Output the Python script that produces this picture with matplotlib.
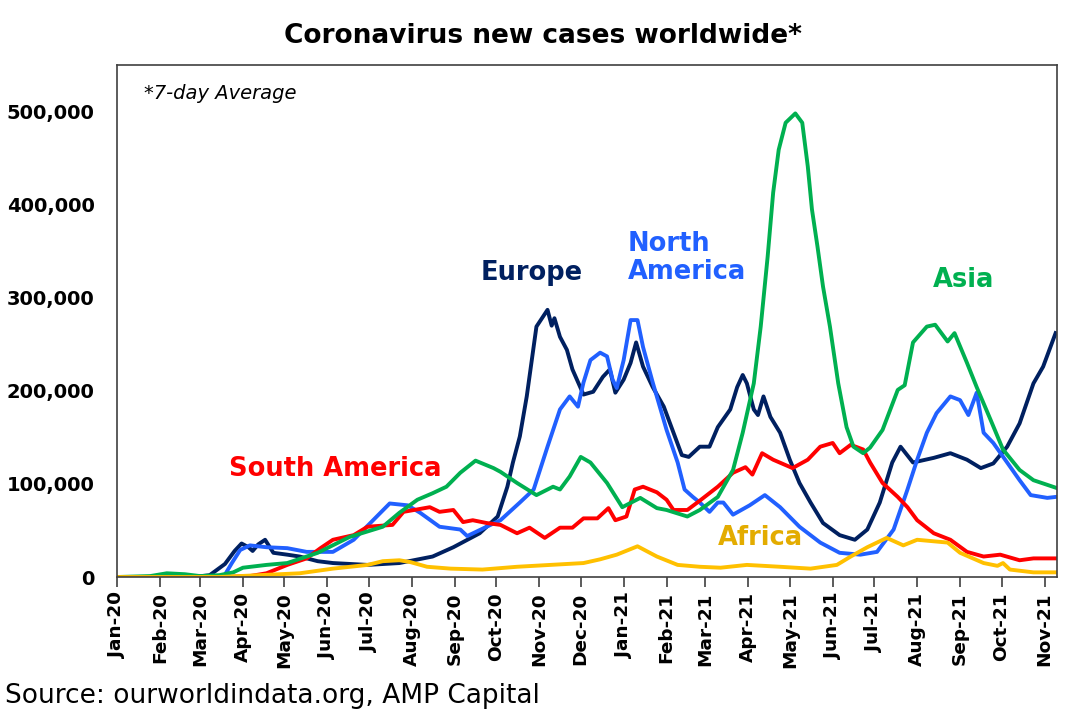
import pandas as pd
import matplotlib
matplotlib.use('Agg')
from matplotlib import pyplot as plt
import matplotlib.dates as mdates
from matplotlib.ticker import FuncFormatter

# new cases, 7-day average, thousands
europe_dates = ['2020-01-01', '2020-02-25', '2020-03-08', '2020-03-19', '2020-03-26', '2020-03-31',
                '2020-04-05', '2020-04-08', '2020-04-12', '2020-04-17', '2020-04-23', '2020-05-03',
                '2020-05-12', '2020-05-25', '2020-06-05', '2020-06-30', '2020-07-23', '2020-08-16',
                '2020-08-31', '2020-09-19', '2020-10-02', '2020-10-09', '2020-10-13', '2020-10-18',
                '2020-10-23', '2020-10-30', '2020-11-07', '2020-11-10', '2020-11-12', '2020-11-16',
                '2020-11-21', '2020-11-25', '2020-12-03', '2020-12-10', '2020-12-17', '2020-12-22',
                '2020-12-26', '2021-01-01', '2021-01-06', '2021-01-10', '2021-01-15', '2021-01-22',
                '2021-01-30', '2021-02-06', '2021-02-12', '2021-02-17', '2021-02-25', '2021-03-04',
                '2021-03-10', '2021-03-19', '2021-03-24', '2021-03-28', '2021-03-31', '2021-04-05',
                '2021-04-08', '2021-04-12', '2021-04-17', '2021-04-24', '2021-05-01', '2021-05-08',
                '2021-05-16', '2021-05-25', '2021-06-06', '2021-06-17', '2021-06-26', '2021-07-05',
                '2021-07-14', '2021-07-20', '2021-07-29', '2021-08-13', '2021-08-25', '2021-09-06',
                '2021-09-16', '2021-09-25', '2021-10-05', '2021-10-14', '2021-10-24', '2021-10-31',
                '2021-11-09']
europe = [0, 0, 2, 14, 28, 36, 32, 28, 35, 40, 26, 24, 22, 17, 15, 13, 15, 22, 32, 47, 65, 97, 123,
          151, 194, 269, 287, 270, 278, 258, 244, 223, 196, 199, 215, 223, 198, 212, 230, 252, 226,
          204, 183, 155, 131, 129, 140, 140, 161, 180, 204, 217, 208, 180, 174, 194, 172, 155, 126,
          101, 80, 58, 45, 40, 51, 80, 123, 140, 123, 128, 133, 126, 117, 122, 140, 165, 208, 226, 262]

nam_dates = ['2020-01-01', '2020-03-18', '2020-03-24', '2020-03-30', '2020-04-06', '2020-04-18',
             '2020-05-03', '2020-05-17', '2020-06-05', '2020-06-20', '2020-07-04', '2020-07-16',
             '2020-07-29', '2020-08-07', '2020-08-21', '2020-09-05', '2020-09-10', '2020-09-24',
             '2020-10-04', '2020-10-18', '2020-10-28', '2020-11-07', '2020-11-16', '2020-11-23',
             '2020-11-29', '2020-12-03', '2020-12-08', '2020-12-15', '2020-12-20', '2020-12-24',
             '2020-12-27', '2021-01-01', '2021-01-06', '2021-01-11', '2021-01-15', '2021-01-22',
             '2021-02-01', '2021-02-09', '2021-02-14', '2021-02-20', '2021-02-25', '2021-03-04',
             '2021-03-10', '2021-03-14', '2021-03-21', '2021-04-02', '2021-04-13', '2021-04-24',
             '2021-05-08', '2021-05-23', '2021-06-06', '2021-06-21', '2021-07-03', '2021-07-15',
             '2021-07-25', '2021-08-01', '2021-08-08', '2021-08-15', '2021-08-25', '2021-09-01',
             '2021-09-07', '2021-09-13', '2021-09-18', '2021-09-25', '2021-10-05', '2021-10-14',
             '2021-10-22', '2021-11-03', '2021-11-09']
north_america = [0, 0, 15, 29, 34, 32, 31, 27, 27, 40, 61, 79, 77, 69, 54, 51, 44, 54, 61, 80, 94,
                 140, 180, 194, 183, 209, 233, 241, 237, 212, 203, 233, 276, 276, 247, 209, 158, 123,
                 94, 86, 80, 70, 80, 80, 67, 77, 88, 75, 54, 37, 26, 24, 27, 51, 94, 126, 155, 176,
                 194, 190, 174, 198, 155, 144, 123, 104, 88, 85, 86]

asia_dates = ['2020-01-01', '2020-01-25', '2020-02-06', '2020-02-19', '2020-03-01', '2020-03-15',
              '2020-03-25', '2020-04-01', '2020-04-18', '2020-05-03', '2020-05-25', '2020-06-17',
              '2020-07-11', '2020-07-23', '2020-08-05', '2020-08-16', '2020-08-26', '2020-09-05',
              '2020-09-16', '2020-09-29', '2020-10-04', '2020-10-16', '2020-10-30', '2020-11-11',
              '2020-11-16', '2020-11-23', '2020-12-01', '2020-12-08', '2020-12-20', '2020-12-31',
              '2021-01-13', '2021-01-25', '2021-02-01', '2021-02-16', '2021-02-25', '2021-03-10',
              '2021-03-21', '2021-03-28', '2021-04-05', '2021-04-10', '2021-04-15', '2021-04-19',
              '2021-04-23', '2021-04-28', '2021-05-05', '2021-05-10', '2021-05-14', '2021-05-17',
              '2021-05-21', '2021-05-25', '2021-05-30', '2021-06-05', '2021-06-11', '2021-06-16',
              '2021-06-23', '2021-06-28', '2021-07-07', '2021-07-18', '2021-07-23', '2021-07-29',
              '2021-08-08', '2021-08-14', '2021-08-23', '2021-08-28', '2021-09-06', '2021-09-13',
              '2021-09-23', '2021-10-02', '2021-10-14', '2021-10-24', '2021-11-09']
asia = [0, 1, 4, 3, 1, 2, 5, 10, 13, 15, 26, 43, 54, 69, 83, 90, 97, 112, 125, 117, 113, 101, 88,
        97, 94, 108, 129, 123, 101, 75, 85, 74, 72, 65, 72, 86, 115, 155, 208, 269, 344, 413, 459,
        488, 498, 488, 441, 395, 355, 312, 269, 208, 161, 140, 133, 139, 158, 201, 206, 252, 269,
        271, 253, 262, 230, 204, 169, 137, 115, 104, 96]

sam_dates = ['2020-01-01', '2020-03-15', '2020-04-06', '2020-04-18', '2020-05-03', '2020-05-17',
             '2020-05-27', '2020-06-05', '2020-06-20', '2020-06-30', '2020-07-18', '2020-07-26',
             '2020-08-14', '2020-08-21', '2020-08-31', '2020-09-07', '2020-09-14', '2020-09-24',
             '2020-10-04', '2020-10-16', '2020-10-25', '2020-11-05', '2020-11-16', '2020-11-25',
             '2020-12-03', '2020-12-13', '2020-12-21', '2020-12-26', '2021-01-03', '2021-01-09',
             '2021-01-15', '2021-01-25', '2021-02-01', '2021-02-06', '2021-02-16', '2021-02-25',
             '2021-03-10', '2021-03-21', '2021-03-30', '2021-04-04', '2021-04-11', '2021-04-19',
             '2021-05-03', '2021-05-14', '2021-05-23', '2021-06-01', '2021-06-06', '2021-06-14',
             '2021-06-23', '2021-06-28', '2021-07-07', '2021-07-18', '2021-07-25', '2021-08-01',
             '2021-08-13', '2021-08-25', '2021-09-06', '2021-09-18', '2021-09-30', '2021-10-14',
             '2021-10-24', '2021-11-09']
south_america = [0, 0, 1, 4, 13, 20, 31, 40, 45, 54, 56, 70, 75, 70, 72, 59, 61, 58, 56, 47, 53,
                 42, 53, 53, 63, 63, 74, 61, 65, 94, 97, 91, 83, 72, 72, 82, 97, 112, 118, 110, 133,
                 126, 117, 126, 140, 144, 133, 142, 137, 123, 101, 86, 75, 61, 47, 40, 27, 22, 24,
                 18, 20, 20]

africa_dates = ['2020-01-01', '2020-03-15', '2020-05-12', '2020-06-05', '2020-06-30', '2020-07-11',
                '2020-07-23', '2020-07-31', '2020-08-12', '2020-08-29', '2020-09-21', '2020-10-16',
                '2020-11-09', '2020-12-03', '2020-12-15', '2020-12-27', '2021-01-11', '2021-01-25',
                '2021-02-09', '2021-02-25', '2021-03-12', '2021-03-31', '2021-04-24', '2021-05-16',
                '2021-06-04', '2021-06-14', '2021-06-26', '2021-07-10', '2021-07-22', '2021-08-01',
                '2021-08-23', '2021-09-01', '2021-09-18', '2021-09-28', '2021-10-02', '2021-10-07',
                '2021-10-24', '2021-11-09']
africa = [0, 0, 4, 9, 13, 17, 18, 16, 11, 9, 8, 11, 13, 15, 19, 24, 33, 22, 13, 11, 10, 13, 11, 9,
          13, 22, 32, 42, 34, 40, 37, 26, 15, 12, 15, 8, 5, 5]

series = [
    (europe_dates, europe, '#002060'),
    (nam_dates, north_america, '#2160FF'),
    (sam_dates, south_america, '#FF0000'),
    (asia_dates, asia, '#00B050'),
    (africa_dates, africa, '#FFC000'),
]

# region name labels: (text, left date, baseline value, colour)
labels = [
    ('Europe', '2020-09-20', 319000, '#002060'),
    ('North', '2021-01-04', 350000, '#2160FF'),
    ('America', '2021-01-04', 320000, '#2160FF'),
    ('Asia', '2021-08-12', 312000, '#00B050'),
    ('South America', '2020-03-22', 109000, '#FF0000'),
    ('Africa', '2021-03-10', 34000, '#E3AC00'),
]

fig = plt.figure(figsize=(10.89, 7.28), dpi=100)
ax = fig.add_axes([0.1074, 0.2074, 0.8632, 0.7033])

for d, v, c in series:
    ax.plot(pd.to_datetime(d), [x * 1000 for x in v], color=c, lw=2.8, solid_joinstyle='round')

for txt, d, y, c in labels:
    ax.text(pd.Timestamp(d), y, txt, color=c, fontsize=18.5, fontweight='bold',
            ha='left', va='baseline')

ax.set_xlim(pd.Timestamp('2020-01-01'), pd.Timestamp('2021-11-10'))
ax.set_ylim(0, 550000)
ax.set_yticks(range(0, 500001, 100000))
ax.yaxis.set_major_formatter(FuncFormatter(lambda v, p: f'{v:,.0f}'))
ax.xaxis.set_major_locator(mdates.MonthLocator())
ax.xaxis.set_major_formatter(mdates.DateFormatter('%b-%y'))

for s in ax.spines.values():
    s.set_color('#404040')
    s.set_linewidth(1.2)
ax.tick_params(axis='y', length=0, pad=16, labelsize=14)
ax.tick_params(axis='x', direction='out', length=7, width=1.2, color='#404040',
               pad=4, labelsize=13.3, labelrotation=90)
for lab in ax.get_xticklabels() + ax.get_yticklabels():
    lab.set_fontweight('bold')

fig.text(0.4986, 0.941, 'Coronavirus new cases worldwide*', ha='center', va='baseline',
         fontsize=19, fontweight='bold')
fig.text(144 / 1089, 1 - 99 / 728, '*7-day Average', ha='left', va='baseline',
         fontsize=14, style='italic')
fig.text(5 / 1089, 1 - 703 / 728, 'Source: ourworldindata.org, AMP Capital', ha='left',
         va='baseline', fontsize=19)

fig.savefig('out.png', dpi=100)
